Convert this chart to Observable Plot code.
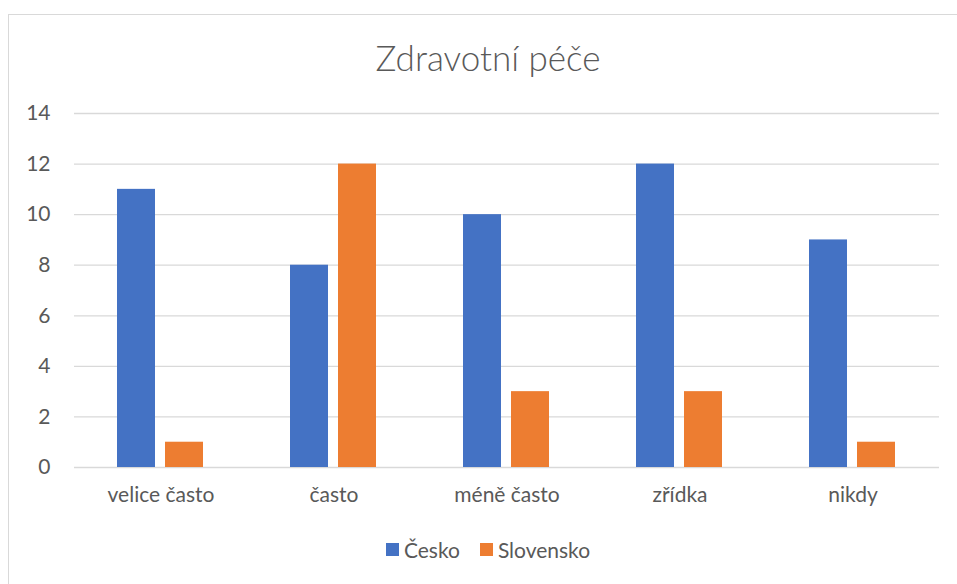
<!DOCTYPE html>
<html>
<head>
<meta charset="utf-8">
<script src="https://cdn.jsdelivr.net/npm/d3@7"></script>
<script src="https://cdn.jsdelivr.net/npm/@observablehq/plot@0.6"></script>
<style>
  html, body { margin: 0; padding: 0; background: #fff; overflow: hidden; }
  body { width: 957px; height: 584px; position: relative; font-family: Lato, "Open Sans", sans-serif; color: #595959; }
  #frame { position: absolute; left: 8px; top: 14px; width: 960px; height: 600px; border: 1px solid #d9d9d9; box-sizing: border-box; }
  #title { position: absolute; left: 0; width: 976px; top: 36px; text-align: center; font-size: 35px; font-weight: 300; color: #595959; }
  #chart { position: absolute; left: 0; top: 0; }
  #legend { position: absolute; left: 0; width: 976px; top: 537px; display: flex; justify-content: center; gap: 20px; font-size: 21px; }
  .item { display: flex; align-items: center; gap: 5px; }
  .sw { width: 13px; height: 13px; display: inline-block; }
</style>
</head>
<body>
<div id="frame"></div>
<div id="title"></div>
<div id="chart"></div>
<div id="legend"></div>
<script>
const title = "Zdravotní péče";
const categories = ["velice často", "často", "méně často", "zřídka", "nikdy"];
const seriesNames = ["Česko", "Slovensko"];
const cesko = [11, 8, 10, 12, 9];
const slovensko = [1, 12, 3, 3, 1];
const colors = ["#4472C4", "#ED7D31"];
const yTicks = [0, 2, 4, 6, 8, 10, 12, 14];

const data = [];
categories.forEach((c, i) => {
  data.push({cat: c, series: seriesNames[0], value: cesko[i]});
  data.push({cat: c, series: seriesNames[1], value: slovensko[i]});
});

document.getElementById("title").textContent = title;

const chart = Plot.plot({
  width: 957,
  height: 520,
  marginLeft: 73,
  marginRight: 17,
  marginTop: 113,
  marginBottom: 53,
  style: {fontFamily: "Lato, 'Open Sans', sans-serif", fontSize: "21px", color: "#595959", background: "transparent"},
  fx: {domain: categories, padding: 0, label: null},
  x: {domain: seriesNames, paddingInner: 0.204, paddingOuter: 0.871, axis: null},
  y: {domain: [0, 14], label: null},
  color: {domain: seriesNames, range: colors},
  marks: [
    Plot.gridY(yTicks, {stroke: "#d9d9d9", strokeOpacity: 1, strokeWidth: 1.3}),
    Plot.barY(data, {fx: "cat", x: "series", y: "value", fill: "series"}),
    Plot.axisY(yTicks, {tickSize: 0, tickPadding: 24, fontSize: 21, label: null, fill: "#595959"}),
    Plot.axisFx({anchor: "bottom", tickSize: 0, tickPadding: 20, fontSize: 21, label: null, fill: "#595959"})
  ]
});
document.getElementById("chart").appendChild(chart);

const legend = document.getElementById("legend");
seriesNames.forEach((s, i) => {
  const item = document.createElement("div");
  item.className = "item";
  const sw = document.createElement("span");
  sw.className = "sw";
  sw.style.background = colors[i];
  const t = document.createElement("span");
  t.textContent = s;
  item.appendChild(sw);
  item.appendChild(t);
  legend.appendChild(item);
});
</script>
</body>
</html>
